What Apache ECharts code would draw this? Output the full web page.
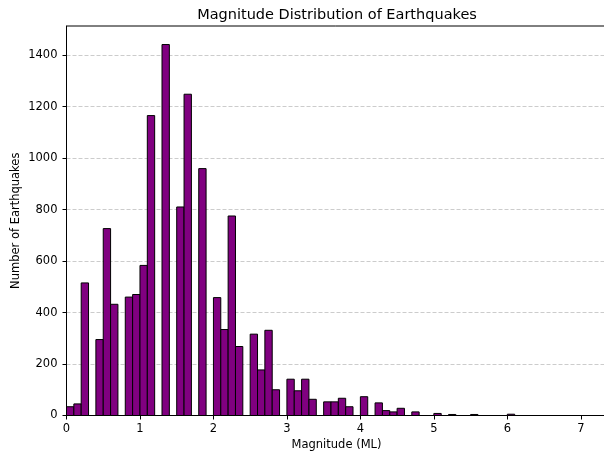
<!DOCTYPE html>
<html>
<head>
<meta charset="utf-8">
<script src="https://cdn.jsdelivr.net/npm/echarts@6/dist/echarts.min.js"></script>
<style>
  html, body { margin: 0; padding: 0; background: #fff; }
  #chart { width: 604px; height: 457px; }
</style>
</head>
<body>
<div id="chart"></div>
<script>
// histogram of magnitudes, bins of 0.1 from 0 to 7
const binWidth = 0.1
const binStart = 0
const counts = [
  34, 45, 515, 0, 295, 726, 432, 0, 460, 470,
  583, 1165, 0, 1441, 0, 810, 1248, 0, 959, 0,
  458, 334, 775, 268, 0, 316, 177, 331, 100, 0,
  141, 96, 141, 63, 0, 53, 53, 67, 34, 0,
  73, 0, 49, 19, 14, 28, 0, 14, 0, 0,
  8, 0, 4, 0, 0, 4, 0, 0, 0, 0,
  5, 0, 0, 0, 0, 0, 0, 0, 0, 0
]
const xTicks = [0, 1, 2, 3, 4, 5, 6, 7]
const yTicks = [0, 200, 400, 600, 800, 1000, 1200, 1400]

const font = 'DejaVu Sans'

// each bar as [left edge, right edge, count]
const bars = counts.map((c, i) => [binStart + i * binWidth, binStart + (i + 1) * binWidth, c])

const chart = echarts.init(document.getElementById('chart'))
chart.setOption({
  animation: false,
  title: {
    text: 'Magnitude Distribution of Earthquakes',
    left: 332,
    top: 3,
    textAlign: 'center',
    textStyle: { fontFamily: font, fontSize: 14.5, fontWeight: 'normal', color: '#000' }
  },
  grid: {
    left: 66.5, top: 26, width: 540, height: 389.5,
    outerBoundsMode: 'none', containLabel: false,
    show: true, borderColor: '#000', borderWidth: 1
  },
  xAxis: {
    type: 'value',
    min: 0,
    max: 7.35,
    name: 'Magnitude (ML)',
    nameLocation: 'middle',
    nameGap: 24,
    nameMoveOverlap: false,
    nameTextStyle: { fontFamily: font, fontSize: 11.5, color: '#000' },
    axisLine: { show: true, lineStyle: { color: '#000', width: 1 } },
    axisTick: { show: true, length: 4, lineStyle: { color: '#000' }, customValues: xTicks },
    axisLabel: { margin: 8, fontFamily: font, fontSize: 11.5, color: '#000', customValues: xTicks, formatter: v => String(v) },
    splitLine: { show: false }
  },
  yAxis: {
    type: 'value',
    min: 0,
    max: 1513,
    name: 'Number of Earthquakes',
    nameLocation: 'middle',
    nameGap: 44,
    nameRotate: 90,
    nameMoveOverlap: false,
    nameTextStyle: { fontFamily: font, fontSize: 11.5, color: '#000' },
    axisLine: { show: true, lineStyle: { color: '#000', width: 1 } },
    axisTick: { show: true, length: 4, lineStyle: { color: '#000' }, customValues: yTicks },
    axisLabel: { margin: 9, fontFamily: font, fontSize: 11.5, color: '#000', customValues: yTicks, formatter: v => String(v) },
    splitLine: { show: true, lineStyle: { color: '#cccccc', width: 1, type: [4, 2] } }
  },
  series: [{
    type: 'custom',
    data: bars,
    encode: { x: [0, 1], y: 2 },
    renderItem: function (params, api) {
      const p0 = api.coord([api.value(0), api.value(2)])
      const p1 = api.coord([api.value(1), 0])
      return {
        type: 'rect',
        shape: { x: p0[0], y: p0[1], width: p1[0] - p0[0], height: p1[1] - p0[1] },
        style: { fill: '#800080', stroke: '#000', lineWidth: 1 }
      }
    }
  }]
})
</script>
</body>
</html>
